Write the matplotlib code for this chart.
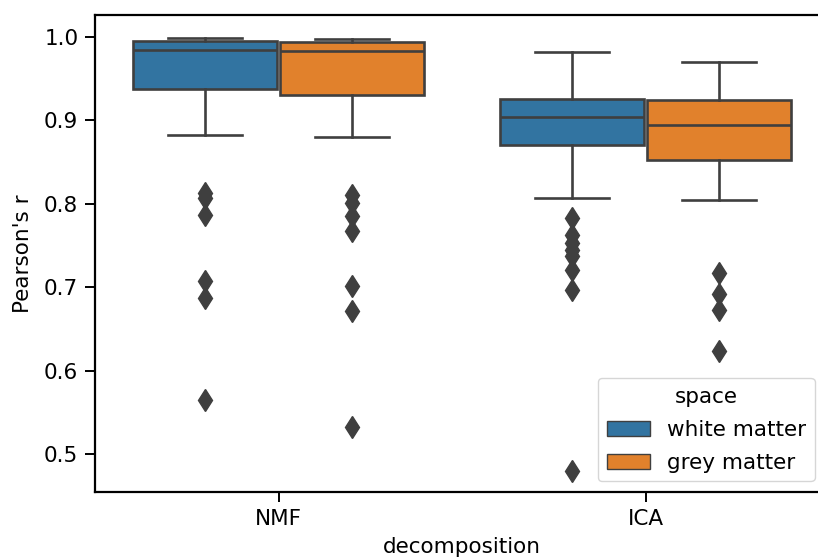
import matplotlib
matplotlib.use("Agg")
import matplotlib.pyplot as plt
from matplotlib.patches import Patch

# Summary statistics of Pearson's r per decomposition and space
decompositions = ["NMF", "ICA"]
spaces = ["white matter", "grey matter"]
colors = ["#3274a1", "#e1812c"]

# order: [NMF white, NMF grey, ICA white, ICA grey]
q1 = [0.938, 0.930, 0.8705, 0.8525]
median = [0.985, 0.983, 0.9045, 0.895]
q3 = [0.995, 0.994, 0.926, 0.924]
whisker_low = [0.8825, 0.880, 0.8066, 0.8046]
whisker_high = [0.999, 0.998, 0.982, 0.970]
outliers = [
    [0.813, 0.807, 0.787, 0.707, 0.687, 0.565],
    [0.811, 0.801, 0.785, 0.767, 0.701, 0.672, 0.532],
    [0.783, 0.762, 0.753, 0.745, 0.737, 0.721, 0.697, 0.479],
    [0.717, 0.692, 0.673, 0.624],
]

edge = "#3f3f3f"
fs = 15.5

fig = plt.figure(figsize=(8.18, 5.6), dpi=100)
ax = fig.add_axes([95 / 818, 68 / 560, 734 / 818, 477 / 560])

stats = []
for i in range(4):
    stats.append(dict(med=median[i], q1=q1[i], q3=q3[i],
                      whislo=whisker_low[i], whishi=whisker_high[i],
                      fliers=outliers[i]))

box_w = 0.4
positions = []
for d in range(len(decompositions)):
    for s in range(len(spaces)):
        positions.append(d - box_w / 2 + s * box_w)

lw = 1.9
bp = ax.bxp(stats, positions=positions, widths=box_w * 0.98, patch_artist=True,
            boxprops=dict(edgecolor=edge, linewidth=lw),
            medianprops=dict(color=edge, linewidth=lw),
            whiskerprops=dict(color=edge, linewidth=lw),
            capprops=dict(color=edge, linewidth=lw),
            flierprops=dict(marker="d", markerfacecolor=edge, markeredgecolor=edge,
                            markersize=11.5, linestyle="none"),
            capwidths=box_w * 0.5, manage_ticks=False)
for i, patch in enumerate(bp["boxes"]):
    patch.set_facecolor(colors[i % 2])

ax.set_xlim(-0.5, 1.5)
ax.set_ylim(0.4544, 1.0264)
ax.set_xticks(range(len(decompositions)))
ax.set_xticklabels(decompositions)
ax.set_yticks([0.5, 0.6, 0.7, 0.8, 0.9, 1.0])
ax.tick_params(labelsize=fs, width=1.4, length=7, pad=5)
ax.set_xlabel("decomposition", fontsize=fs, labelpad=6)
ax.set_ylabel("Pearson's r", fontsize=fs, labelpad=8)
for sp in ax.spines.values():
    sp.set_linewidth(1.6)

handles = [Patch(facecolor=c, edgecolor=edge, linewidth=1.0) for c in colors]
ax.legend(handles, spaces, title="space", loc="lower right", fontsize=fs,
          title_fontsize=fs, bbox_to_anchor=(0.995, 0.0), labelspacing=0.6)

fig.savefig("out.png", dpi=100)
